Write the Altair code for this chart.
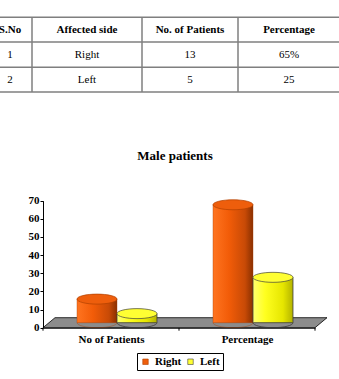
import altair as alt
import pandas as pd

# ---------------- data ----------------
categories = ["No of Patients", "Percentage"]
series = ["Right", "Left"]
right_values = [13, 65]
left_values = [5, 25]
y_ticks = [0, 10, 20, 30, 40, 50, 60, 70]
chart_title = "Male patients"

table_header = ["S.No", "Affected side", "No. of Patients", "Percentage"]
table_row1 = ["1", "Right", "13", "65%"]
table_row2 = ["2", "Left", "5", "25"]

# ---------------- layout / style ----------------
SERIF = "Liberation Serif"
W, H = 339, 379
col_edges = [-12, 32, 142, 238, 340]
row_edges = [17.3, 42, 67.3, 92]
PX0, PX1 = 43, 315          # plot x range (page px)
PY0, PY1 = 327.7, 200.7     # plot y range: value 0 -> PY0, 70 -> PY1
ELL = "M-1,0A1,0.25,0,1,1,1,0A1,0.25,0,1,1,-1,0Z"
COVER = "M-0.985,-0.05L0.985,-0.05L0.985,0A0.985,0.25,0,0,0,-0.985,0Z"
ARC = "M-1,0A1,0.25,0,0,0,1,0"
FLOOR = "M-142,5L130,5L142,-5L-130,-5Z"
LINE = "#7f7f7f"

# ---------------- table ----------------
cells = []
for r, row in enumerate([table_header, table_row1, table_row2]):
    for c, txt in enumerate(row):
        cells.append({"tx": (col_edges[c] + col_edges[c + 1]) / 2,
                      "ty": (row_edges[r] + row_edges[r + 1]) / 2,
                      "t": txt, "head": r == 0})
cells = pd.DataFrame(cells)
hlines = pd.DataFrame({"tx": [0] * len(row_edges), "tx2": [W] * len(row_edges), "ty": row_edges})
vlines = pd.DataFrame({"tx": col_edges[1:-1], "ty": [row_edges[0]] * 3, "ty2": [row_edges[-1]] * 3})

sx = alt.Scale(domain=[0, W], range=[0, W], nice=False, zero=False)
sy = alt.Scale(domain=[0, H], range=[0, H], nice=False, zero=False)
TX = alt.X("tx:Q", scale=sx, axis=None)
TY = alt.Y("ty:Q", scale=sy, axis=None)

h_rules = alt.Chart(hlines).mark_rule(color=LINE, strokeWidth=1.5).encode(x=TX, x2="tx2:Q", y=TY)
v_rules = alt.Chart(vlines).mark_rule(color=LINE, strokeWidth=1.5).encode(x=TX, y=TY, y2="ty2:Q")
head_text = alt.Chart(cells).transform_filter("datum.head").mark_text(
    font=SERIF, fontSize=11, fontWeight="bold", color="black", baseline="middle").encode(
    x=TX, y=TY, text="t:N")
body_text = alt.Chart(cells).transform_filter("!datum.head").mark_text(
    font=SERIF, fontSize=11, color="black", baseline="middle").encode(
    x=TX, y=TY, text="t:N")

# ---------------- chart ----------------
df = pd.DataFrame({
    "category": categories * 2,
    "series": [series[0]] * len(right_values) + [series[1]] * len(left_values),
    "value": right_values + left_values,
})

x_axis = alt.X("category:N", sort=categories,
               scale=alt.Scale(domain=categories, range=[PX0, PX1], paddingInner=0, paddingOuter=0),
               axis=alt.Axis(title=None, orient="bottom", labelAngle=0, ticks=False, domainColor="black",
                             labelFont=SERIF, labelFontWeight="bold", labelFontSize=11,
                             labelColor="black", labelPadding=6, offset=-(H - PY0)))
y_axis = alt.Y("value:Q", scale=alt.Scale(domain=[0, 70], range=[PY0, PY1], nice=False),
               axis=alt.Axis(title=None, orient="left", values=y_ticks, grid=False, tickSize=3,
                             tickColor="black", domainColor="black", labelFont=SERIF,
                             labelFontWeight="bold", labelFontSize=11, labelColor="black",
                             labelPadding=1, offset=-PX0))
axis_layer = alt.Chart(df).mark_point(opacity=0).encode(x=x_axis, y=y_axis)

# category-boundary ticks under the x axis
tick_df = pd.DataFrame({"k": list(range(len(categories) + 1))})
x_ticks = alt.Chart(tick_df).mark_rule(color="black", strokeWidth=1).encode(
    x=alt.X("k:Q", scale=alt.Scale(domain=[0, len(categories)], range=[PX0, PX1], nice=False,
                                   zero=False), axis=None),
    y=alt.value(PY0), y2=alt.value(PY0 + 3))

bx = alt.X("category:N", sort=categories,
           scale=alt.Scale(domain=categories, range=[PX0, PX1], paddingInner=0.412,
                           paddingOuter=0.206, align=0.607),
           axis=None)
bxo = alt.XOffset("series:N", sort=series,
                  scale=alt.Scale(domain=series, paddingInner=0, paddingOuter=0))
bys = alt.Scale(domain=[-2.76, 67.24], range=[PY0, PY1], nice=False, zero=False)
by = alt.Y("value:Q", scale=bys, axis=None)
bz = alt.Y("z:Q", scale=bys, axis=None)

one = pd.DataFrame({"a": [0]})
floor = alt.Chart(one).mark_point(
    shape=FLOOR, size=4, filled=True, fill="#8c8c8c", stroke="black", strokeWidth=0.8, opacity=1
).encode(x=alt.value(PX0 + 142), y=alt.value(PY0 - 5))

title = alt.Chart(one).mark_text(text=chart_title, font=SERIF, fontSize=13, fontWeight="bold",
                                 color="black", baseline="middle").encode(
    x=alt.value(175), y=alt.value(156))

grad = {
    "Right": alt.Gradient(gradient="linear", x1=0, x2=1, y1=0, y2=0, stops=[
        alt.GradientStop(color="#ff7420", offset=0), alt.GradientStop(color="#f25c08", offset=0.4),
        alt.GradientStop(color="#c84a06", offset=0.8), alt.GradientStop(color="#8a3000", offset=1)]),
    "Left": alt.Gradient(gradient="linear", x1=0, x2=1, y1=0, y2=0, stops=[
        alt.GradientStop(color="#ffff70", offset=0), alt.GradientStop(color="#ffff20", offset=0.3),
        alt.GradientStop(color="#e6e600", offset=0.75), alt.GradientStop(color="#b3b300", offset=1)]),
}
edge = {"Right": "#a83c00", "Left": "#3a3a3a"}
edge_w = {"Right": 0.4, "Left": 0.8}

cyl_layers = []
for s in series:
    base = alt.Chart(df).transform_filter(alt.datum.series == s)
    cyl_layers.append(base.mark_bar(fill=grad[s], stroke=edge[s], strokeWidth=edge_w[s])
                      .encode(x=bx, xOffset=bxo, y=by, y2=alt.datum(0)))
    cyl_layers.append(base.transform_calculate(z="0").mark_point(
        shape=COVER, size=1600, filled=True, opacity=1, fill=grad[s], strokeWidth=0)
        .encode(x=bx, xOffset=bxo, y=bz))
    cyl_layers.append(base.transform_calculate(z="0").mark_point(
        shape=ARC, size=1600, filled=False, opacity=1, stroke=edge[s], strokeWidth=edge_w[s])
        .encode(x=bx, xOffset=bxo, y=bz))

tops = alt.Chart(df).mark_point(shape=ELL, size=1600, filled=True, opacity=1, strokeWidth=0.7).encode(
    x=bx, xOffset=bxo, y=by,
    color=alt.Color("series:N", sort=series,
                    scale=alt.Scale(domain=series, range=["#ee5e0c", "#ffff33"]),
                    legend=alt.Legend(title=None, orient="none", legendX=137, legendY=353,
                                      direction="horizontal", strokeColor="black", padding=3,
                                      labelFont=SERIF, labelFontWeight="bold", labelFontSize=11,
                                      labelColor="black", symbolType="square", symbolSize=30,
                                      symbolStrokeColor="black", symbolStrokeWidth=0.6,
                                      columnPadding=3, labelOffset=4)),
    stroke=alt.Stroke("series:N", sort=series,
                      scale=alt.Scale(domain=series, range=["#b04000", "#404040"]), legend=None),
)

chart = alt.layer(
    h_rules, v_rules, head_text, body_text, title, x_ticks, axis_layer, floor, *cyl_layers, tops
).resolve_scale(
    x="independent", y="independent"
).properties(
    width=W, height=H, padding=0, background="white",
    autosize=alt.AutoSizeParams(type="none"),
).configure_view(stroke=None)

chart.save("out.html", embed_options={"renderer": "svg", "actions": False})
